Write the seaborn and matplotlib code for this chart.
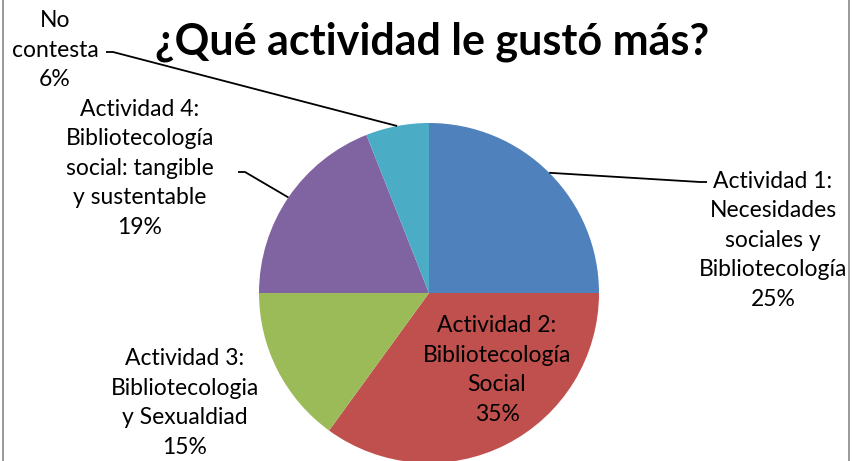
import numpy as np
import matplotlib
matplotlib.use("Agg")
import matplotlib.pyplot as plt
import seaborn as sns

# data
labels = [
    "Actividad 1:\nNecesidades\nsociales y\nBibliotecología",
    "Actividad 2:\nBibliotecología\nSocial",
    "Actividad 3:\nBibliotecologia\ny Sexualdiad",
    "Actividad 4:\nBibliotecología\nsocial: tangible\ny sustentable",
    "No\ncontesta",
]
values = [25, 35, 15, 19, 6]
colors = ["#4F81BD", "#C0504D", "#9BBB59", "#8064A2", "#4BACC6"]
title = "¿Qué actividad le gustó más?"

sns.set_theme(style="white")
plt.rcParams["font.family"] = ["Lato", "DejaVu Sans"]

W, H = 852, 461
fig = plt.figure(figsize=(W / 100, H / 100), dpi=100)
ax = fig.add_axes([0, 0, 1, 1])

cx, cy, r = 429, H - 293, 170
wedges, _ = ax.pie(values, colors=colors, startangle=90, counterclock=False,
                   radius=r, center=(cx, cy), frame=True,
                   wedgeprops=dict(linewidth=0))
ax.set_xlim(0, W)
ax.set_ylim(0, H)
ax.set_axis_off()

# label placement (pixel coords, y from top) and leader elbows
place = [
    (773, 240, (707, 182)),
    (497, 370, None),
    (185, 403, None),
    (140, 168, (238, 172)),
    (55, 50, (106, 52)),
]
for w, lab, v, (lx, ly, elbow) in zip(wedges, labels, values, place):
    ax.text(lx, H - ly, f"{lab}\n{v}%", ha="center", va="center",
            fontsize=16.5, linespacing=1.5, color="black")
    if elbow is not None:
        mid = np.deg2rad((w.theta1 + w.theta2) / 2)
        ex, ey = cx + r * np.cos(mid), cy + r * np.sin(mid)
        bx, by = elbow
        side = 1 if bx > cx else -1
        kx = bx - 7 * side
        ax.plot([ex, kx, bx], [ey, H - by, H - by], color="black", lw=1.3,
                solid_capstyle="butt")

ax.text(432, H - 42, title, ha="center", va="center", fontsize=31,
        fontweight="bold", color="black")

fig.patches.append(plt.Rectangle((0.003, -0.01), 0.994, 1.02, transform=fig.transFigure,
                                 fill=False, edgecolor="#888888", lw=1.2))
fig.savefig("out.png", dpi=100)
